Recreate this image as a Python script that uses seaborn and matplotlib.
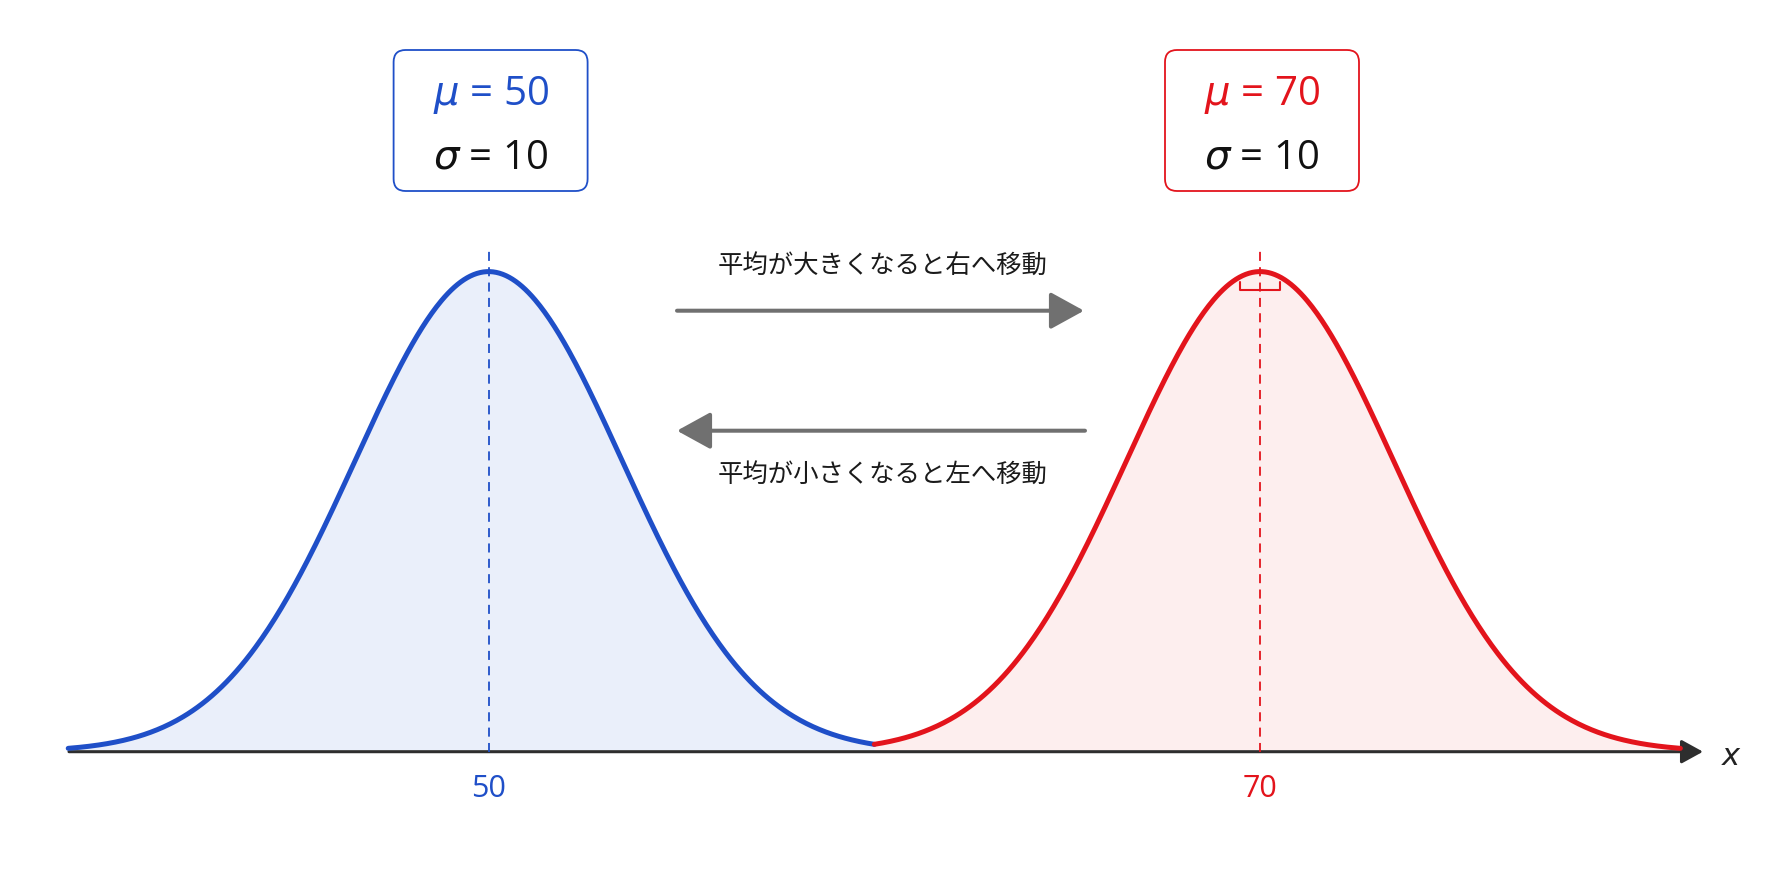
import numpy as np
import pandas as pd
import matplotlib
matplotlib.use("Agg")
import matplotlib.pyplot as plt
import matplotlib.transforms as mtransforms
from matplotlib.patches import FancyBboxPatch
import seaborn as sns

# ---------------- data ----------------
means = [50, 70]
sigmas = [10, 10]
series_names = ["mu50", "mu70"]
line_colors = ["#1f4fc8", "#e3141c"]
fill_colors = ["#eaeffa", "#fdeeee"]
tick_labels = ["50", "70"]
mu_labels = [r"$\mu$ = 50", r"$\mu$ = 70"]
sigma_labels = [r"$\sigma$ = 10", r"$\sigma$ = 10"]
shift_right_text = "平均が大きくなると右へ移動"
shift_left_text = "平均が小さくなると左へ移動"
axis_label = "x"

VIS = 0.346   # horizontal compression of the bell shape used by the drawing
SPAN = 3.15   # drawn range, in drawn standard deviations

# ---------------- layout ----------------
W, H = 1774, 887
sns.set_theme(style="white")
plt.rcParams["font.family"] = ["Noto Sans CJK JP", "DejaVu Sans"]
plt.rcParams["mathtext.fontset"] = "dejavusans"

fig = plt.figure(figsize=(W / 100, H / 100), dpi=100)
fig.patch.set_facecolor("white")
ax = fig.add_axes([0, 0, 1, 1])
ax.set_facecolor("white")

x0_px, dx_px = 488.6, 38.57          # pixel of first mean, pixels per unit
base_px, peak_px = 752.7, 272.6      # baseline and peak rows (from top)
peak = 1 / np.sqrt(2 * np.pi)


def xdata(px):
    return means[0] + (px - x0_px) / dx_px


def ydata(py):
    return peak * (base_px - py) / (base_px - peak_px)


def xpx(v):
    return x0_px + (v - means[0]) * dx_px


ax.set_xlim(xdata(0), xdata(W))
ax.set_ylim(ydata(H), ydata(0))

# pixel transform (origin top-left) for boxes
T = mtransforms.Affine2D().scale(1 / W, -1 / H).translate(0, 1) + fig.transFigure

# ---------------- curves ----------------
midpoint = (means[0] + means[1]) / 2
frames = []
for i, (name, mu, sd) in enumerate(zip(series_names, means, sigmas)):
    s = sd * VIS
    lo = mu - SPAN * s if i == 0 else midpoint
    hi = midpoint if i == 0 else mu + SPAN * s
    x = np.linspace(lo, hi, 500)
    y = np.exp(-0.5 * ((x - mu) / s) ** 2) / np.sqrt(2 * np.pi)
    frames.append(pd.DataFrame({"x": x, "density": y, "series": name}))
df = pd.concat(frames, ignore_index=True)

for name, fc in zip(series_names, fill_colors):
    sub = df[df["series"] == name]
    ax.fill_between(sub["x"], 0, sub["density"], color=fc, lw=0, zorder=1)

# axis arrow
ax.annotate("", xy=(xdata(1703), 0), xytext=(xdata(69), 0),
            arrowprops=dict(arrowstyle="-|>,head_length=0.4,head_width=0.22",
                            mutation_scale=33, lw=2.2, color="#2e2e2e",
                            shrinkA=0, shrinkB=0), zorder=2)
ax.text(xdata(1731), ydata(757), axis_label, fontsize=22, style="italic",
        family="DejaVu Sans", color="#222222", ha="center", va="center")

# dashed mean lines
ax.vlines(means, 0, ydata(247), colors=line_colors, linestyles=(0, (5, 3.5)),
          lw=1.3, zorder=2.5)

sns.lineplot(data=df, x="x", y="density", hue="series",
             palette=dict(zip(series_names, line_colors)), lw=3.6,
             legend=False, ax=ax, zorder=3, sort=False)

# small bracket mark under the red peak
mu_r = means[1]
bx = [mu_r - 0.52, mu_r - 0.52, mu_r + 0.52, mu_r + 0.52]
by = [ydata(283), ydata(291), ydata(291), ydata(283)]
ax.plot(bx, by, color=line_colors[1], lw=1.5, zorder=3)

# ---------------- ticks ----------------
ax.set_xticks(means, tick_labels)
ax.set_yticks([])
ax.spines["bottom"].set_position(("data", 0))
for sp in ax.spines.values():
    sp.set_visible(False)
ax.tick_params(axis="x", length=0, pad=15, labelsize=22)
for lab, c in zip(ax.get_xticklabels(), line_colors):
    lab.set_color(c)
    lab.set_family("Open Sans")
ax.set_xlabel("")
ax.set_ylabel("")

# ---------------- shift arrows ----------------
arrow_kw = dict(arrowstyle="-|>,head_length=0.4,head_width=0.22",
                mutation_scale=52, lw=2.9, color="#707070", shrinkA=0, shrinkB=0)
ax.annotate("", xy=(xdata(1084), ydata(311.7)), xytext=(xdata(677), ydata(311.7)),
            arrowprops=arrow_kw, zorder=2)
ax.annotate("", xy=(xdata(677), ydata(431.7)), xytext=(xdata(1085), ydata(431.7)),
            arrowprops=arrow_kw, zorder=2)
ax.text(xdata(883), ydata(266), shift_right_text, fontsize=18.3, color="#1a1a1a",
        ha="center", va="center")
ax.text(xdata(883), ydata(475), shift_left_text, fontsize=18.3, color="#1a1a1a",
        ha="center", va="center")

# ---------------- parameter boxes ----------------
for mu, c, ml, sl in zip(means, line_colors, mu_labels, sigma_labels):
    cx = xpx(mu) + 2
    bw, bh = 194, 141
    box = FancyBboxPatch((cx - bw / 2, 51), bw, bh,
                         boxstyle="round,pad=0,rounding_size=12",
                         transform=T, facecolor="white", edgecolor=c, lw=1.3)
    fig.patches.append(box)
    fig.text(cx, 95, ml, transform=T, fontsize=29, color=c, family="Open Sans",
             ha="center", va="center")
    fig.text(cx, 158, sl, transform=T, fontsize=29, color="#111111",
             family="Open Sans", ha="center", va="center")

fig.savefig("out.png", dpi=100, facecolor="white")
